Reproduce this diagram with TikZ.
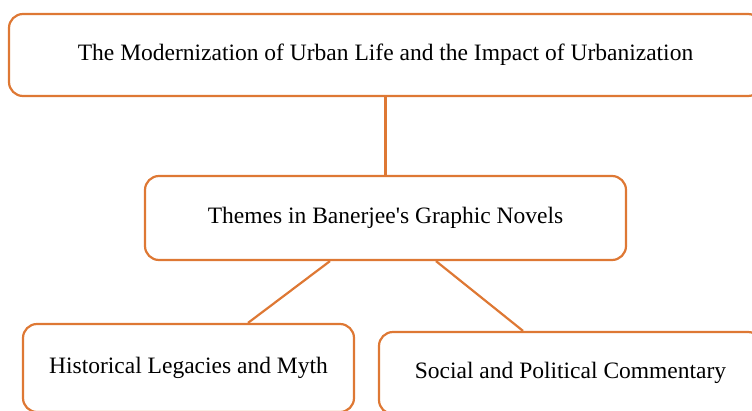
\documentclass[tikz,border=0pt]{standalone}
\usepackage{fontspec}
\setmainfont{Liberation Serif}
\definecolor{boxorange}{RGB}{222,120,52}
\tikzset{
    themebox/.style={draw=boxorange, line width=2.2pt, rounded corners=14pt, fill=white,
        font=\fontsize{23.5}{28}\selectfont, inner sep=0pt, yshift=-2pt},
    link/.style={draw=boxorange, line width=2.2pt}
}
\begin{document}
\begin{tikzpicture}[x=1pt,y=-1pt]
                \useasboundingbox (0,0) rectangle (752,410);
                \clip (0,0) rectangle (752,410);
                \node[themebox, minimum width=753pt, minimum height=82pt] (urban) at (385.5,53) {The Modernization of Urban Life and the Impact of Urbanization};
                \node[themebox, minimum width=481pt, minimum height=84pt] (themes) at (385.5,216) {Themes in Banerjee\textquotesingle s Graphic Novels};
                \node[themebox, minimum width=331pt, minimum height=88pt] (hist) at (188.5,366) {Historical Legacies and Myth};
                \node[themebox, minimum width=383pt, minimum height=82pt] (social) at (570.5,371) {Social and Political Commentary};
                \draw[link] (urban) -- (themes);
                \draw[link] ([xshift=-55.5pt]themes.south) -- ([xshift=59.5pt]hist.north);
                \draw[link] ([xshift=50.5pt]themes.south) -- ([xshift=-47.5pt]social.north);
            \end{tikzpicture}
\end{document}
